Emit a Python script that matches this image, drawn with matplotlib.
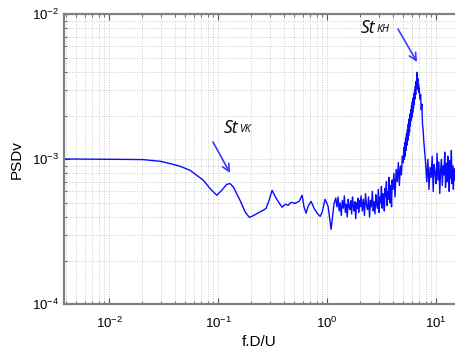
import matplotlib
matplotlib.use("Agg")
import matplotlib.pyplot as plt
from matplotlib.ticker import LogLocator, NullFormatter

plt.rcParams['font.family'] = ['Liberation Sans', 'DejaVu Sans']

# ---- data ----
# smooth low-frequency part
freq_low = [0.00386, 0.00826, 0.0150, 0.0206, 0.0294, 0.0363, 0.0448, 0.0553,
            0.0638, 0.0733, 0.0845, 0.0973, 0.108, 0.120, 0.1288, 0.138,
            0.159, 0.177, 0.1937, 0.2095, 0.2265, 0.245, 0.259, 0.2756, 0.2937,
            0.3129, 0.3334, 0.355, 0.3865, 0.412, 0.4388, 0.4674, 0.5085,
            0.5536, 0.590, 0.615, 0.642, 0.669, 0.713, 0.760, 0.810, 0.863,
            0.900, 0.958, 1.021, 1.088, 1.159]
psd_low = [1.005e-3, 1.002e-3, 0.998e-3, 0.995e-3, 0.969e-3, 0.934e-3, 0.895e-3,
           0.840e-3, 0.776e-3, 0.717e-3, 0.628e-3, 0.565e-3, 0.611e-3, 0.672e-3,
           0.680e-3, 0.644e-3, 0.521e-3, 0.434e-3, 0.397e-3, 0.408e-3, 0.422e-3,
           0.436e-3, 0.445e-3, 0.459e-3, 0.521e-3, 0.611e-3, 0.556e-3, 0.513e-3,
           0.467e-3, 0.490e-3, 0.481e-3, 0.505e-3, 0.497e-3, 0.513e-3, 0.565e-3,
           0.467e-3, 0.425e-3, 0.474e-3, 0.513e-3, 0.459e-3, 0.425e-3, 0.404e-3,
           0.431e-3, 0.530e-3, 0.474e-3, 0.329e-3, 0.497e-3]

# noisy high-frequency part (values in units of 1e-3)
freq_a = [1.20, 1.23, 1.26, 1.29, 1.32, 1.35, 1.38, 1.41, 1.44, 1.47, 1.50, 1.53,
          1.56, 1.59, 1.62, 1.65, 1.68, 1.71, 1.74, 1.77, 1.80, 1.83, 1.86, 1.89,
          1.92, 1.95, 1.98]
psd_a = [0.54, 0.47, 0.55, 0.44, 0.50, 0.41, 0.52, 0.46, 0.56, 0.43, 0.49, 0.40,
         0.53, 0.47, 0.45, 0.52, 0.42, 0.55, 0.48, 0.44, 0.51, 0.39, 0.50, 0.46,
         0.54, 0.43, 0.52]
freq_b = [2.00, 2.05, 2.10, 2.15, 2.20, 2.25, 2.30, 2.35, 2.40, 2.45, 2.50, 2.55,
          2.60, 2.65, 2.70, 2.75, 2.80, 2.85, 2.90, 2.95, 3.00, 3.05, 3.10, 3.15,
          3.20, 3.25, 3.30, 3.35, 3.40, 3.45, 3.50, 3.55, 3.60, 3.65, 3.70, 3.75,
          3.80, 3.85, 3.90, 3.95]
psd_b = [0.47, 0.56, 0.44, 0.53, 0.41, 0.58, 0.48, 0.45, 0.55, 0.40, 0.52, 0.47,
         0.60, 0.44, 0.51, 0.42, 0.57, 0.49, 0.46, 0.62, 0.43, 0.55, 0.50, 0.65,
         0.46, 0.58, 0.52, 0.44, 0.63, 0.55, 0.70, 0.48, 0.60, 0.53, 0.75, 0.50,
         0.66, 0.58, 0.47, 0.72]
freq_c = [4.0, 4.1, 4.2, 4.3, 4.4, 4.5, 4.6, 4.7, 4.8, 4.9,
          5.00, 5.05, 5.10, 5.15, 5.20, 5.25, 5.30, 5.35, 5.40, 5.45,
          5.50, 5.55, 5.60, 5.65, 5.70, 5.75, 5.80, 5.85, 5.90, 5.95,
          6.00, 6.05, 6.10, 6.15, 6.20, 6.25, 6.30, 6.35, 6.40, 6.45,
          6.50, 6.55, 6.60, 6.65, 6.70, 6.75, 6.80, 6.85, 6.90, 6.95,
          7.0, 7.1, 7.2, 7.3, 7.4, 7.5, 7.6, 7.7, 7.8, 7.9]
psd_c = [0.62, 0.80, 0.55, 0.85, 0.70, 0.95, 0.66, 0.90, 0.78, 1.05,
         0.95, 1.20, 1.00, 1.30, 1.05, 1.40, 1.15, 1.50, 1.25, 1.60,
         1.35, 1.75, 1.45, 1.90, 1.55, 2.05, 1.70, 2.20, 1.85, 2.35,
         1.95, 2.50, 2.10, 2.65, 2.25, 2.85, 2.40, 3.00, 2.60, 3.20,
         2.80, 3.45, 3.10, 3.80, 3.98, 3.40, 3.60, 3.00, 3.30, 2.90,
         3.10, 2.60, 2.80, 2.20, 2.40, 1.75, 1.60, 1.35, 1.20, 1.05]
freq_d = [8.0, 8.2, 8.4, 8.6, 8.8, 9.0, 9.2, 9.4, 9.6, 9.8, 10.0, 10.2, 10.4,
          10.6, 10.8, 11.0, 11.2, 11.4, 11.6, 11.8, 12.0, 12.2, 12.4, 12.6, 12.8,
          13.0, 13.2, 13.4, 13.6, 13.8, 14.0, 14.2, 14.4, 14.6, 14.8, 15.0]
psd_d = [0.95, 0.70, 1.00, 0.62, 0.88, 0.75, 1.05, 0.60, 0.92, 0.80, 0.68, 1.10,
         0.72, 0.96, 0.58, 0.85, 1.00, 0.66, 0.90, 0.78, 1.12, 0.64, 0.94, 0.70,
         1.05, 0.82, 0.60, 0.98, 0.74, 1.15, 0.68, 0.90, 0.62, 0.86, 0.72, 0.80]

x_ticks = [1e-2, 1e-1, 1e0, 1e1]
y_ticks = [1e-4, 1e-3, 1e-2]

freq = freq_low + freq_a + freq_b + freq_c + freq_d
psd = psd_low + [v * 1e-3 for v in psd_a + psd_b + psd_c + psd_d]

# ---- figure ----
W, H = 455, 358
fig = plt.figure(figsize=(W / 100, H / 100), dpi=100)
ax = fig.add_axes([64 / W, (H - 304.3) / H, (W - 64) / W, 290 / H])

ax.plot(freq, psd, color='#0a0aff', lw=1.0)

ax.set_xscale('log')
ax.set_yscale('log')
ax.set_xlim(0.00386, 14.9)
ax.set_ylim(1e-4, 1e-2)
ax.set_xticks(x_ticks)
ax.set_yticks(y_ticks)
ax.xaxis.set_minor_locator(LogLocator(base=10, subs=range(2, 10), numticks=20))
ax.yaxis.set_minor_locator(LogLocator(base=10, subs=range(2, 10), numticks=20))
ax.xaxis.set_minor_formatter(NullFormatter())
ax.yaxis.set_minor_formatter(NullFormatter())

ax.grid(True, which='both', color='#cccccc', linestyle=(0, (1, 1.5)), linewidth=0.7)
ax.set_axisbelow(True)

for side in ['left', 'bottom', 'top']:
    ax.spines[side].set_color('#808080')
    ax.spines[side].set_linewidth(1.6)
ax.spines['right'].set_visible(False)

ax.tick_params(axis='x', which='both', direction='in', top=True, bottom=True,
               color='#555555', labelsize=9.5, pad=8)
ax.tick_params(axis='y', which='both', direction='in', left=True, right=False,
               color='#555555', labelsize=9.5, pad=3.5)
ax.tick_params(which='major', length=4, width=0.8)
ax.tick_params(which='minor', length=2.5, width=0.6)

ax.set_xlabel('f.D/U', fontsize=11, labelpad=3)
ax.set_ylabel('PSDv', fontsize=11, labelpad=6)

# ---- annotations ----
def frac(px, py):
    return ((px - 64) / 391, (304.3 - py) / 290)

arrow_kw = dict(arrowstyle='->', color='#3a3aff', lw=1.2, mutation_scale=13,
                shrinkA=0, shrinkB=0)
ax.annotate('', xy=frac(417, 62), xytext=frac(398, 29), xycoords='axes fraction',
            textcoords='axes fraction', arrowprops=arrow_kw)
ax.annotate('', xy=frac(230, 173), xytext=frac(213, 142), xycoords='axes fraction',
            textcoords='axes fraction', arrowprops=arrow_kw)

txt_font = ['Noto Sans', 'DejaVu Sans']
st1 = fig.text(361 / W, 1 - 33 / H, 'St', fontsize=12.5, style='italic', family=txt_font,
               va='baseline', ha='left', color='#111111')
ax.annotate('KH', xy=(1, 0), xycoords=st1, xytext=(0.5, 1.1), textcoords='offset points',
            fontsize=7.5, style='italic', family=txt_font, va='bottom', ha='left',
            color='#111111', annotation_clip=False)
st2 = fig.text(224 / W, 1 - 133 / H, 'St', fontsize=12.5, style='italic', family=txt_font,
               va='baseline', ha='left', color='#111111')
ax.annotate('VK', xy=(1, 0), xycoords=st2, xytext=(0.5, 1.1), textcoords='offset points',
            fontsize=7.5, style='italic', family=txt_font, va='bottom', ha='left',
            color='#111111', annotation_clip=False)

fig.savefig('out.png', dpi=100, facecolor='white')
